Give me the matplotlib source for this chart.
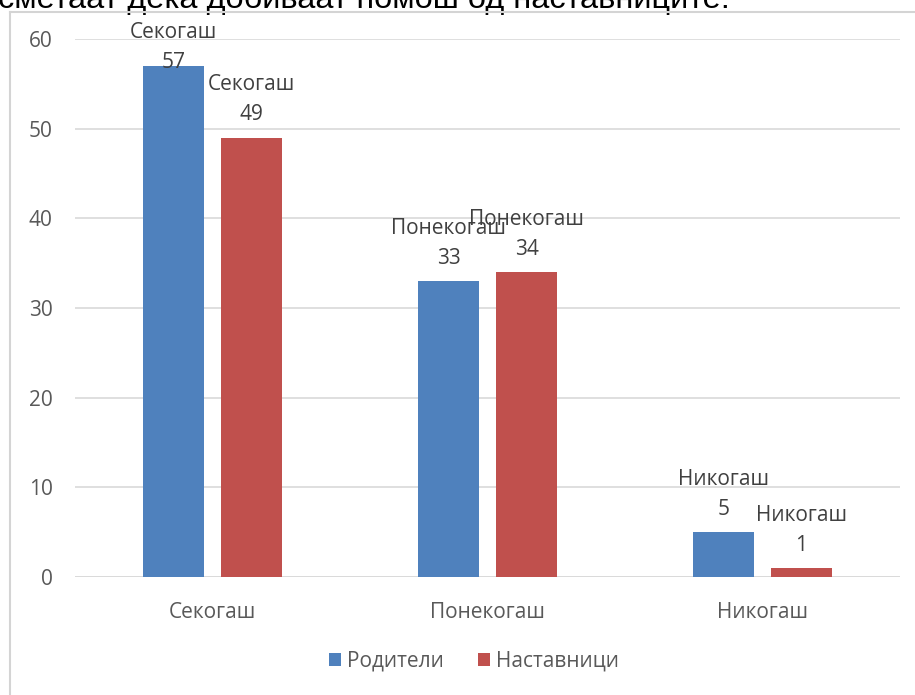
import matplotlib
matplotlib.use("Agg")
import matplotlib.pyplot as plt
from matplotlib.lines import Line2D
import numpy as np

categories = ["Секогаш", "Понекогаш", "Никогаш"]
series_names = ["Родители", "Наставници"]
roditeli = [57, 33, 5]
nastavnici = [49, 34, 1]
title = "сметаат дека добиваат помош од наставниците."

plt.rcParams['font.family'] = ['Open Sans', 'DejaVu Sans']
W, H = 915, 695
fig = plt.figure(figsize=(W / 100, H / 100), dpi=100)

# chart frame (top and left edges visible)
ytop = 1 - 11.5 / H
xl = 9.5 / W
fig.add_artist(Line2D([xl, 1.0], [ytop, ytop], transform=fig.transFigure,
                      color='#d4d4d4', linewidth=1.5, zorder=5))
fig.add_artist(Line2D([xl, xl], [0.0, ytop], transform=fig.transFigure,
                      color='#d4d4d4', linewidth=1.5, zorder=5))
fig.text(-2 / W, 1 - 8 / H, title, fontsize=23.4, va='baseline', ha='left',
         color='black', family=['Liberation Sans', 'DejaVu Sans'], zorder=1)

ax = fig.add_axes([75 / W, (H - 577) / H, (900 - 75) / W, (577 - 39) / H])
x = np.arange(len(categories))
w = 0.225
off = 0.142
colors = ['#4F81BD', '#C0504D']
FS = 15
for vals, name, c, d in [(roditeli, series_names[0], colors[0], -off),
                         (nastavnici, series_names[1], colors[1], off)]:
    ax.bar(x + d, vals, w, color=c, label=name, zorder=3)
    for xi, v in zip(x, vals):
        dy = 9 if v < 55 else -5
        ax.annotate(f"{categories[xi]}\n{v}", (xi + d, v), xytext=(0, dy),
                    textcoords='offset points', ha='center', va='bottom',
                    fontsize=FS, color='#404040', linespacing=1.55,
                    annotation_clip=False, zorder=4)

ax.set_xlim(-0.5, 2.5)
ax.set_ylim(0, 60)
ax.set_yticks(range(0, 61, 10))
ax.set_xticks(x)
ax.set_xticklabels(categories)
ax.tick_params(axis='both', length=0, labelsize=FS, colors='#595959')
ax.tick_params(axis='x', pad=18)
ax.tick_params(axis='y', pad=16)
ax.grid(axis='y', color='#d9d9d9', linewidth=1.2, zorder=0)
for s in ax.spines.values():
    s.set_visible(False)
ax.axhline(0, color='#d9d9d9', linewidth=1.2, zorder=2)

leg = fig.legend(loc='center', bbox_to_anchor=(474 / W, (H - 661) / H), ncol=2,
                 frameon=False, fontsize=FS, handlelength=0.6, handleheight=0.6,
                 handletextpad=0.3, columnspacing=1.6)
for t in leg.get_texts():
    t.set_color('#595959')

fig.savefig("out.png", dpi=100)
